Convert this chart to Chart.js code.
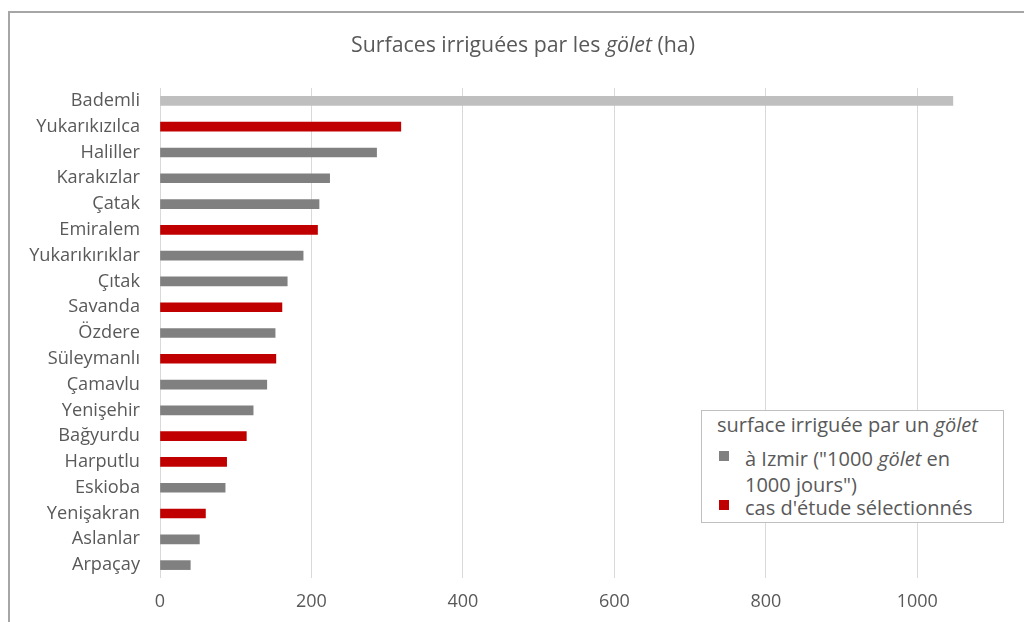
<!DOCTYPE html>
<html>
<head>
<meta charset="utf-8">
<script src="https://cdn.jsdelivr.net/npm/chart.js@4"></script>
<style>
    html, body { margin: 0; padding: 0; background: #fff; overflow: hidden; }
    body { width: 1024px; height: 622px; position: relative; font-family: "Open Sans", sans-serif; color: #595959; }
    #frame { position: absolute; left: 8px; top: 11px; width: 1100px; height: 700px; border-top: 2px solid #a6a6a6; border-left: 2px solid #a6a6a6; }
    #chartBox { position: absolute; left: 0; top: 0; width: 1024px; height: 622px; }
    #title { position: absolute; left: 0; width: 1046px; top: 30px; text-align: center; font-size: 21.3px; line-height: 28px; }
    #legend { position: absolute; left: 701px; top: 410px; width: 301px; height: 111px; border: 1px solid #bfbfbf; background: #fff; font-size: 20px; line-height: 26px; }
    #legend div { position: absolute; white-space: nowrap; }
    #legend .sw { position: absolute; width: 10px; height: 10px; }
</style>
</head>
<body>
<div id="frame"></div>
<div id="chartBox"><canvas id="golets"></canvas></div>
<div id="title">Surfaces irriguées par les <i>gölet</i> (ha)</div>
<div id="legend">
    <div style="left:15px; top:1px">surface irriguée par un <i>gölet</i></div>
    <span class="sw" style="left:17px; top:40px; background:#808080"></span>
    <div style="left:43px; top:35px">à Izmir ("1000 <i>gölet</i> en<br>1000 jours")</div>
    <span class="sw" style="left:17px; top:89px; background:#c00000"></span>
    <div style="left:43px; top:84px">cas d'étude sélectionnés</div>
</div>

<script>
const golets = [
    "Bademli", "Yukarıkızılca", "Haliller", "Karakızlar", "Çatak", "Emiralem",
    "Yukarıkırıklar", "Çıtak", "Savanda", "Özdere", "Süleymanlı", "Çamavlu",
    "Yenişehir", "Bağyurdu", "Harputlu", "Eskioba", "Yenişakran", "Aslanlar", "Arpaçay"
];
const surfaces = [1047, 318, 286, 224, 210, 208, 189, 168, 161, 152, 153, 141, 123, 114, 88, 86, 60, 52, 40];
const selected = ["Yukarıkızılca", "Emiralem", "Savanda", "Süleymanlı", "Bağyurdu", "Harputlu", "Yenişakran"];
const xTicks = [0, 200, 400, 600, 800, 1000];

const grey = "#808080";
const lightGrey = "#bfbfbf";
const red = "#c00000";

document.addEventListener("DOMContentLoaded", function () {
    renderChart();
});

function renderChart() {
    const ctx = document.getElementById("golets").getContext("2d");
    const isSel = golets.map(name => selected.includes(name));

    new Chart(ctx, {
        type: "bar",
        data: {
            labels: golets,
            datasets: [{
                label: "à Izmir (\"1000 gölet en 1000 jours\")",
                data: surfaces.map((v, i) => isSel[i] ? null : v),
                backgroundColor: golets.map((n, i) => i === 0 ? lightGrey : grey),
                barThickness: 9
            }, {
                label: "cas d'étude sélectionnés",
                data: surfaces.map((v, i) => isSel[i] ? v : null),
                backgroundColor: red,
                barThickness: 9
            }]
        },
        options: {
            indexAxis: "y",
            responsive: true,
            maintainAspectRatio: false,
            animation: false,
            layout: { padding: { top: 88, right: 31, left: 0, bottom: 0 } },
            plugins: {
                legend: { display: false },
                title: { display: false },
                tooltip: { enabled: false }
            },
            scales: {
                x: {
                    stacked: true,
                    min: 0,
                    max: 1100,
                    afterBuildTicks: scale => { scale.ticks = xTicks.map(v => ({ value: v })); },
                    afterFit: scale => { scale.height = 44; },
                    grid: { color: "#d9d9d9", drawTicks: false },
                    border: { display: false },
                    ticks: {
                        color: "#595959", padding: 13,
                        font: { family: "Open Sans", size: 18 },
                        callback: v => String(v)
                    }
                },
                y: {
                    stacked: true,
                    afterFit: scale => { scale.width = 160; },
                    grid: { display: false, drawTicks: false },
                    border: { display: false },
                    ticks: { color: "#595959", padding: 20, autoSkip: false, font: { family: "Open Sans", size: 18.2 } }
                }
            }
        }
    });
}
</script>
</body>
</html>
